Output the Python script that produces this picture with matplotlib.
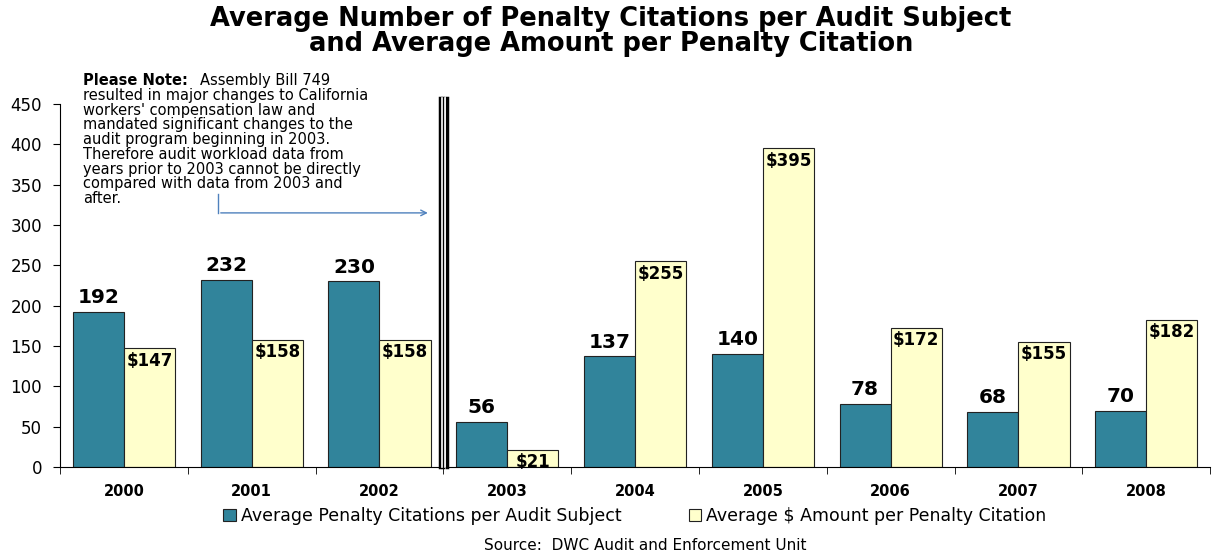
import numpy as np
import matplotlib
matplotlib.use("Agg")
import matplotlib.pyplot as plt

plt.rcParams['font.family'] = ['DejaVu Sans']

# data
years = ["2000", "2001", "2002", "2003", "2004", "2005", "2006", "2007", "2008"]
citations = [192, 232, 230, 56, 137, 140, 78, 68, 70]
amounts = [147, 158, 158, 21, 255, 395, 172, 155, 182]

teal = "#31849B"
cream = "#FFFFCC"

fig = plt.figure(figsize=(12.15, 5.55), dpi=100)
ax = fig.add_axes([0.0494, 0.1586, 0.9466, 0.654])

x = np.arange(len(years))
w = 0.4
ax.bar(x - w / 2, citations, w, color=teal, edgecolor="#222222", linewidth=0.8,
       label="Average Penalty Citations per Audit Subject")
ax.bar(x + w / 2, amounts, w, color=cream, edgecolor="#222222", linewidth=0.8,
       label="Average $ Amount per Penalty Citation")

for xi, v in zip(x, citations):
    ax.text(xi - w / 2, v + 6, f"{v}", ha="center", va="bottom",
            fontsize=14.5, fontweight="bold")
for xi, v in zip(x, amounts):
    ax.text(xi + w / 2, v - 4, f"${v}", ha="center", va="top",
            fontsize=12, fontweight="bold")

ax.set_xlim(-0.5, len(years) - 0.5)
ax.set_ylim(0, 450)
ax.set_yticks(np.arange(0, 451, 50))
ax.tick_params(axis="y", labelsize=12, length=5, direction="out", pad=8)
ax.set_xticks(x)
ax.set_xticklabels(years, fontsize=10.5, fontweight="bold")
ax.tick_params(axis="x", length=0, pad=12)
ax.set_xticks(np.arange(-0.5, len(years), 1), minor=True)
ax.tick_params(axis="x", which="minor", length=5, direction="out")
for s in ["top", "right"]:
    ax.spines[s].set_visible(False)

# divider between 2002 and 2003
for off in [-0.028, 0.0, 0.028]:
    ax.plot([2.5 + off, 2.5 + off], [0, 457], color="black", lw=2.5, clip_on=False)
for off in [-0.014, 0.014]:
    ax.plot([2.5 + off, 2.5 + off], [0, 457], color="white", lw=1.2, clip_on=False,
            zorder=5)

# note
note_body = ("resulted in major changes to California\n"
             "workers' compensation law and\n"
             "mandated significant changes to the\n"
             "audit program beginning in 2003.\n"
             "Therefore audit workload data from\n"
             "years prior to 2003 cannot be directly\n"
             "compared with data from 2003 and\n"
             "after.")
head = ax.text(-0.32, 479, "Please Note:", fontsize=10.5, fontweight="bold",
               va="center", ha="left", clip_on=False)
ax.annotate("Assembly Bill 749", xy=(1, 0.5), xycoords=head, xytext=(9, 0),
            textcoords="offset points", fontsize=10.5, va="center", ha="left")
ax.text(-0.32, 470, note_body, fontsize=10.5, va="top", ha="left", linespacing=0.98,
        clip_on=False)
ax.plot([0.736, 0.736], [339, 315], color="#4F81BD", lw=1)
ax.annotate("", xy=(2.4, 315), xytext=(0.736, 315),
            arrowprops=dict(arrowstyle="->", color="#4F81BD", lw=1))

fig.text(0.503, 0.99, "Average Number of Penalty Citations per Audit Subject\n"
         "and Average Amount per Penalty Citation",
         ha="center", va="top", fontsize=18.5, fontweight="bold", linespacing=0.95)

ax.legend(loc="center", bbox_to_anchor=(0.5, -0.135), ncol=2, frameon=False,
          fontsize=12.5, handlelength=0.7, handleheight=0.7, handletextpad=0.3,
          columnspacing=3.9)

fig.text(0.531, 0.018, "Source:  DWC Audit and Enforcement Unit", ha="center",
         va="center", fontsize=11)

fig.savefig("out.png", dpi=100)
